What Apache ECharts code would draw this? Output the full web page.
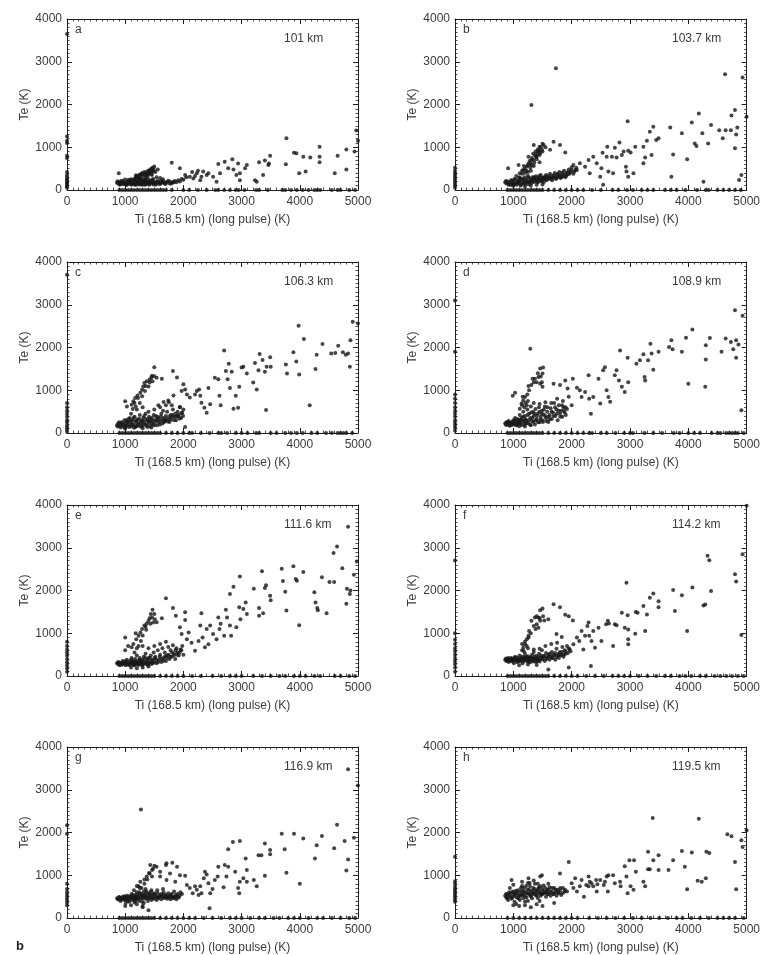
<!DOCTYPE html>
<html>
<head>
<meta charset="utf-8">
<script src="https://cdn.jsdelivr.net/npm/echarts@6/dist/echarts.min.js"></script>
<style>
  html, body { margin: 0; padding: 0; background: #fff; }
  #chart { width: 763px; height: 955px; }
</style>
</head>
<body>
<div id="chart"></div>
<script>
// ---- panel labels ----
const panelLetters = ['a', 'b', 'c', 'd', 'e', 'f', 'g', 'h']
const altitudes = ['101 km', '103.7 km', '106.3 km', '108.9 km', '111.6 km', '114.2 km', '116.9 km', '119.5 km']
const xName = 'Ti (168.5 km) (long pulse) (K)'
const yName = 'Te (K)'
const xMax = 5000, yMax = 4000, tickStep = 1000

// ---- data: [Ti, Te] pairs (scatter + dense core), Ti values where Te = 0, Te values where Ti = 0 ----
const ptsA = [
  [860,170],[880,150],[900,190],[920,140],[940,170],[960,200],[980,150],[1000,180],[1010,130],[1030,160],[1050,200],[1070,140],
  [1090,175],[1110,120],[1120,210],[1140,160],[1160,130],[1170,195],[1190,150],[1210,230],[1230,170],[1250,130],[1260,200],[1280,150],
  [1300,180],[1320,130],[1330,220],[1350,160],[1370,190],[1390,140],[1410,170],[1430,210],[1450,150],[1470,180],[1490,130],[1510,170],
  [1530,200],[1550,150],[1580,180],[1610,160],[1640,190],[1670,150],[1700,175],[1730,200],[1760,160],[1790,190],[1820,170],[1850,210],
  [1880,180],[1910,230],[1940,200],[1970,260],[2000,240],
  [1150,250],[1180,290],[1200,330],[1230,280],[1250,360],[1270,310],[1290,400],[1310,350],[1330,420],[1350,300],[1370,380],[1390,450],
  [1410,400],[1430,480],[1450,430],[1470,520],[1490,480],[1500,550],[1460,350],[1520,420],[1540,300],[1400,260],[1300,260],[1200,270],
  [1600,280],[1650,250],[1100,250],[1050,240],[890,390],[1560,480],[1480,260],[1350,240],
  [1800,640],[1940,510],[2030,350],[2110,310],[2230,390],[2290,230],[2340,430],[2430,390],[2310,310],[2170,270],[2510,310],[2570,195],
  [2600,610],[2630,390],[2710,660],[2770,510],[2840,720],[2860,480],[2940,620],[2910,350],[2970,390],[2970,230],[3060,510],[3090,585],
  [3230,230],[3260,195],[3300,650],[3370,350],[3400,690],[3460,585],[3490,800],[3470,620],[3770,1210],[3760,600],[3900,870],[3940,860],
  [3990,390],[4060,780],[4100,430],[4180,760],[4340,1010],[4340,780],[4340,650],[4600,390],[4650,800],[4800,950],[4800,480],[4940,900],
  [4970,1390],[5000,1150],[2250,450],[2150,420],[2400,350],[2050,300],[2200,330]
]
const coreA = [
  [870,205],[905,125],[935,215],[965,135],[995,245],[1025,115],[1055,175],[1085,235],[1105,145],[1135,190],[1155,240],[1185,115],
  [1205,185],[1235,135],[1265,245],[1285,120],[1315,195],[1345,125],[1365,230],[1385,175],[1415,125],[1445,185],[1465,240],[1495,165],
  [1525,125],[1565,210],[1595,135],[1625,215],[1665,185],[1695,140],[1745,215],[1785,145],[1835,185],[1185,345],[1215,300],[1245,250],
  [1325,365],[1355,405],[1375,330],[1415,445],[1445,380],[1485,430],[1455,500],[1395,350],[1275,370],[1235,330]
]
const baseA = [900,950,1000,1050,1100,1150,1200,1250,1300,1350,1400,1450,1500,1550,1600,1650,1700,1800,2000,2100,2250,2400,2550,
  2600,2700,2800,2900,2950,3050,3250,3300,3450,3700,3750,3850,3950,4050,4150,4250,4300,4350,4550,4650,4700,4850,4950]
const edgeA = [50,80,120,150,180,220,250,300,350,420,750,800,1100,1150,1250,3650]

const ptsB = [
  [860,180],[880,150],[900,200],[920,120],[940,170],[960,230],[980,140],[1000,190],[1000,100],[1020,260],[1040,160],[1060,120],
  [1080,210],[1100,170],[1110,280],[1130,130],[1150,220],[1170,180],[1190,300],[1200,140],[1220,250],[1240,200],[1250,330],[1270,170],
  [1290,260],[1310,220],[1330,300],[1350,190],[1370,250],[1390,320],[1410,210],[1430,280],[1450,240],[1470,350],[1490,200],[1510,290],
  [1530,260],[1550,330],[1570,230],[1590,300],[1610,270],[1630,380],[1650,250],[1670,320],[1690,290],[1710,400],[1730,260],[1750,350],
  [1770,310],[1790,420],[1810,280],[1830,370],[1850,330],[1870,450],[1890,300],[1910,400],[1930,360],[1950,480],[1980,420],[2000,530],
  [2030,380],[2060,470],[1200,80],[1300,100],[1400,120],[1500,130],[1150,380],[1250,420],[1050,330],
  [1100,300],[1150,450],[1200,500],[1250,580],[1280,680],[1320,750],[1340,850],[1380,900],[1420,950],[1470,1000],[1520,1050],[1300,620],
  [1350,700],[1400,720],[1450,820],[1500,900],[1550,1000],[1200,400],[1350,560],[1450,650],
  [1730,2850],[1310,1990],[1350,1050],[1450,1010],[1500,1080],[1490,940],[1430,900],[1370,820],[1310,700],[1260,620],[1230,550],
  [1170,470],[1110,390],[1260,780],[1400,780],[1460,860],[1690,1130],[1800,1050],[1630,940],[1890,880],[910,510],[1090,585],
  [2030,585],[2090,470],[2140,625],[2230,545],[2290,700],[2310,390],[2370,780],[2430,625],[2490,310],[2510,510],[2540,120],[2600,780],
  [2530,870],[2610,1010],[2630,430],[2690,780],[2710,390],[2740,990],[2770,760],[2820,1110],[2860,820],[2890,900],[2930,545],[2940,430],
  [2970,310],[2970,920],[2960,1610],[3010,880],[3060,390],[3090,1010],[3230,1010],[3230,625],[3260,760],[3290,1150],[3340,1365],
  [3370,820],[3400,1480],[3450,1170],[3490,1210],[3690,1460],[3710,310],[3740,830],[3890,1330],[3980,720],[4060,1580],[4110,1090],
  [4140,1030],[4180,1790],[4240,1330],[4260,195],[4340,1090],[4390,1520],[4530,1400],[4590,1210],[4630,2710],[4640,1400],[4730,1400],
  [4740,1740],[4800,1870],[4800,975],[4820,1300],[4840,1460],[4870,235],[4930,2630],[4910,350],[5000,1715]
]
const coreB = [
  [875,210],[915,155],[955,115],[985,225],[1015,135],[1045,240],[1075,165],[1105,215],[1125,105],[1145,265],[1175,150],[1195,235],
  [1225,185],[1255,135],[1265,290],[1285,200],[1315,165],[1335,255],[1355,300],[1385,205],[1405,270],[1425,180],[1445,330],[1465,225],
  [1485,290],[1505,250],[1525,185],[1545,280],[1565,350],[1585,250],[1615,330],[1645,290],[1665,230],[1695,350],[1715,300],[1745,280],
  [1765,380],[1795,330],[1825,300],[1845,410],[1875,350],[1905,330],[1935,420],[1965,380],[1995,470],[2045,430],[2080,520],[1225,450],
  [1290,520],[1315,580],[1360,640],[1410,840],[1440,920],[1390,780],[1300,450],[1180,560]
]
const baseB = [900,950,1000,1050,1100,1150,1200,1250,1300,1350,1400,1450,1500,1600,1700,1800,1900,2000,2100,2200,2350,2500,2700,
  2800,2950,3050,3200,3300,3400,3600,3700,3800,3950,4150,4300,4350,4500,4600,4700,4800,4900]
const edgeB = [50,100,150,200,250,300,350,400,450,520]

const ptsC = [
  [860,180],[880,220],[900,160],[920,200],[940,250],[960,180],[980,140],[1000,220],[1020,300],[1030,170],[1050,260],[1070,200],
  [1080,350],[1100,150],[1110,240],[1130,300],[1150,190],[1160,380],[1180,260],[1200,160],[1210,320],[1230,220],[1250,420],[1260,150],
  [1280,280],[1300,200],[1310,350],[1330,250],[1350,450],[1360,170],[1380,300],[1400,230],[1410,380],[1430,160],[1440,280],[1460,350],
  [1480,200],[1490,420],[1510,260],[1530,320],[1550,180],[1560,380],[1580,250],[1600,300],[1620,450],[1640,220],[1660,350],[1680,280],
  [1700,400],[1720,500],[1740,320],[1760,260],[1780,420],[1800,360],[1820,550],[1840,300],[1860,450],[1880,380],[1900,500],[1920,420],
  [1940,600],[1960,350],[1980,480],[2000,550],[1000,100],[1150,120],[1300,110],[1450,130],[1100,450],[1200,550],[1300,600],[1400,500],
  [1500,550],[1600,600],[1700,650],[1750,720],[1650,520],
  [1500,1540],[1460,1340],[1500,1330],[1420,1250],[1370,1210],[1330,1170],[1310,1090],[1290,1010],[1260,940],[1210,880],[1170,820],
  [1140,740],[1110,660],[1030,620],[1000,740],[1540,1290],[1470,1210],[1400,1090],[1340,980],
  [1630,1270],[1820,1450],[1890,1300],[2000,1140],[2030,1020],[2060,900],[1970,980],[1830,880],[1740,760],[1660,725],[1570,650],
  [1800,650],[1940,610],[2030,140],
  [2110,830],[2200,900],[2230,980],[2270,1020],[2290,870],[2310,710],[2360,590],[2400,475],[2430,1050],[2460,670],[2540,1290],
  [2600,1260],[2620,870],[2640,650],[2700,1930],[2730,1450],[2760,1260],[2780,1620],[2800,1050],[2830,1430],[2860,570],[2900,870],
  [2940,590],[2960,1080],[3000,1530],[3030,1550],[3090,1390],[3200,1180],[3230,1640],[3260,1020],[3290,1470],[3310,1850],[3360,1710],
  [3400,1430],[3420,540],[3430,1550],[3490,1770],[3500,1550],
  [3760,1600],[3780,1390],[3890,1890],[3940,1670],[3980,2510],[3990,1370],[4070,2200],[4170,650],[4270,1500],[4290,1830],[4390,2080],
  [4540,1860],[4610,1870],[4660,2040],[4740,1890],[4790,1830],[4830,1860],[4860,1550],[4870,2170],[4910,2600],[5000,2560]
]
const coreC = [
  [870,150],[895,250],[925,130],[955,220],[985,300],[1005,160],[1035,240],[1055,330],[1065,140],[1095,290],[1125,200],[1145,350],
  [1175,140],[1195,280],[1215,190],[1245,330],[1265,240],[1285,160],[1305,290],[1325,400],[1345,200],[1365,330],[1385,140],[1405,270],
  [1425,340],[1455,230],[1475,300],[1505,180],[1525,400],[1545,280],[1575,340],[1595,200],[1615,380],[1645,300],[1665,250],[1695,330],
  [1725,270],[1755,380],[1785,310],[1815,420],[1845,380],[1875,300],[1905,400],[1935,340],[1965,460],[1995,400],[1180,620],[1250,700],
  [1130,560],[1220,820],[1160,700],[1290,860],[1350,1100],[1420,1180],[1450,1300]
]
const baseC = [900,950,1000,1050,1100,1150,1200,1250,1300,1350,1400,1450,1500,1550,1600,1700,1800,1900,2000,2100,2150,2300,2450,
  2600,2650,2750,2900,3000,3100,3250,3300,3500,3600,3750,3850,3950,4050,4200,4300,4450,4550,4650,4700,4750,4800,4900]
const edgeC = [30,80,130,180,250,300,380,450,520,600,700,3700]

const ptsD = [
  [860,220],[880,250],[900,200],[920,280],[940,230],[960,180],[980,260],[1000,300],[1010,210],[1030,350],[1050,250],[1070,190],
  [1090,300],[1110,420],[1120,230],[1140,350],[1160,280],[1170,500],[1190,200],[1200,400],[1220,300],[1240,550],[1250,240],[1270,450],
  [1290,350],[1300,620],[1320,280],[1340,500],[1350,400],[1370,200],[1380,560],[1400,320],[1420,450],[1440,600],[1450,250],[1470,380],
  [1490,520],[1500,300],[1520,430],[1540,620],[1560,350],[1580,500],[1600,260],[1620,420],[1640,580],[1660,330],[1680,480],[1700,700],
  [1720,400],[1740,550],[1760,300],[1780,650],[1800,450],[1820,520],[1840,380],[1860,600],[1880,480],[1900,420],[1920,560],[1200,150],
  [1300,180],[1100,160],[1150,650],[1250,750],[1350,700],[1450,680],[1550,720],[1650,700],[1750,800],[1850,750],[1950,850],[2000,650],
  [1460,1510],[1510,1530],[1500,1390],[1430,1310],[1370,1270],[1350,1190],[1310,1120],[1270,1000],[1240,900],[1200,840],[1170,760],
  [1140,690],[1110,570],[990,870],[1030,940],[1400,1190],[1460,1150],[1500,1080],[1490,1190],[1290,1970],
  [1690,1150],[1800,1120],[1890,1230],[1930,1040],
  [2020,1270],[2090,1060],[2140,1000],[2170,840],[2230,960],[2290,1350],[2300,800],[2330,450],[2370,840],[2460,1270],[2490,690],
  [2540,1470],[2570,1540],[2600,1000],[2630,840],[2660,730],[2740,1350],[2770,1470],[2810,1230],[2830,1930],[2860,1080],[2910,960],
  [2960,1760],[2970,1190],[3110,1620],[3170,1700],[3230,1840],[3250,1310],[3260,1230],[3310,1700],[3350,2090],[3370,1860],[3400,1480],
  [3490,1900],[3670,2010],[3710,2170],[3730,1960],[3890,1900],[3960,2230],[4000,1150],[4070,2420],[4300,2050],[4300,1720],[4290,1080],
  [4370,2220],[4570,1900],[4640,2210],[4730,2130],[4770,1960],[4800,2870],[4820,1760],[4820,2170],[4860,2070],[4930,2740],[4910,530]
]
const coreD = [
  [875,190],[905,260],[935,170],[965,240],[995,200],[1025,280],[1045,180],[1065,330],[1085,220],[1105,260],[1125,310],[1145,190],
  [1165,380],[1185,270],[1205,320],[1225,220],[1245,420],[1265,300],[1285,200],[1305,480],[1325,350],[1345,260],[1365,450],[1385,300],
  [1405,400],[1425,250],[1445,500],[1465,320],[1485,450],[1505,260],[1525,550],[1545,400],[1565,280],[1585,600],[1605,380],[1625,320],
  [1655,500],[1685,400],[1715,600],[1745,450],[1775,520],[1805,380],[1835,650],[1865,520],[1895,600],[1190,600],[1230,650],[1210,700],
  [1160,850],[1260,1100],[1330,1270],[1420,1400],[1470,1320]
]
const baseD = [900,950,1000,1050,1100,1150,1200,1250,1300,1350,1400,1450,1500,1600,1700,1800,1900,2000,2100,2200,2300,2350,2500,
  2600,2750,2900,3000,3050,3250,3400,3550,3750,3850,4000,4100,4200,4400,4500,4550,4650,4700,4750,4800,4850,4950]
const edgeD = [50,120,180,240,300,380,450,520,600,700,800,900,1900,3100]

const ptsE = [
  [860,300],[880,280],[900,320],[920,260],[940,300],[960,350],[980,280],[1000,320],[1010,250],[1030,380],[1050,300],[1070,260],
  [1090,350],[1110,420],[1120,280],[1140,330],[1160,250],[1170,400],[1190,300],[1200,480],[1220,350],[1240,280],[1250,420],[1270,320],
  [1290,250],[1300,380],[1320,450],[1340,300],[1350,520],[1370,350],[1390,260],[1400,420],[1420,320],[1440,480],[1450,280],[1470,380],
  [1490,550],[1500,330],[1520,450],[1540,300],[1560,600],[1580,380],[1600,500],[1620,330],[1640,650],[1660,420],[1680,550],[1700,350],
  [1720,480],[1740,680],[1760,400],[1780,600],[1800,450],[1820,720],[1840,520],[1860,400],[1880,650],[1900,550],[1920,480],[1950,620],
  [1980,700],[2000,500],[1100,200],[1200,180],[1300,200],[1400,220],[1000,600],[1050,700],[1200,650],[1300,700],[1400,650],[1500,700],
  [1600,750],[1700,800],
  [1470,1550],[1500,1450],[1460,1370],[1510,1330],[1400,1290],[1370,1230],[1330,1180],[1290,1100],[1260,1020],[1230,940],[1190,860],
  [1140,750],[1110,670],[1000,900],[1540,1260],[1430,1220],[1360,1080],[1630,1350],[1700,1820],
  [1820,1590],[1870,1410],[1940,1140],[2030,1490],[2030,1310],[1970,980],[2060,860],[2090,1020],[2140,780],[2200,590],[2260,820],
  [2310,1470],[2290,1180],[2330,900],[2370,670],[2400,1100],[2430,745],[2460,1180],[2510,980],[2570,860],[2600,1370],[2620,1100],
  [2640,1220],[2700,940],[2730,1550],[2750,1370],[2800,1180],[2820,940],[2800,1920],[2860,2090],[2910,1140],[2960,1610],[2970,2330],
  [2980,1330],[3030,1570],[3070,1720],[3090,1450],[3210,2040],[3300,1410],[3300,1590],[3350,2450],[3370,1470],[3400,2060],[3420,2120],
  [3490,1880],[3500,1770],[3690,2510],[3710,2220],[3750,1970],[3770,1530],[3890,2570],[3930,2270],[3950,2230],[3990,1190],[4060,2430],
  [4250,1960],[4270,1720],[4300,1590],[4310,1540],[4380,2310],[4460,1470],[4510,2200],[4590,2200],[4580,2880],[4640,3030],[4730,2520],
  [4800,1690],[4810,2040],[4830,3490],[4860,1920],[4870,2000],[4930,2370],[4980,2680]
]
const coreE = [
  [875,320],[895,260],[925,300],[955,270],[975,330],[995,290],[1015,350],[1045,270],[1065,320],[1085,280],[1105,380],[1125,310],
  [1145,260],[1165,350],[1185,280],[1205,320],[1225,260],[1245,380],[1265,300],[1285,350],[1305,270],[1325,340],[1345,420],[1365,280],
  [1385,380],[1405,300],[1425,420],[1455,350],[1475,300],[1505,420],[1535,380],[1565,330],[1595,450],[1625,400],[1655,350],[1685,460],
  [1715,420],[1745,500],[1775,450],[1805,550],[1835,480],[1865,600],[1895,500],[1935,550],[1965,600],[1160,550],[1230,700],[1270,820],
  [1180,1000],[1300,950],[1350,1150],[1420,1350],[1480,1250],[1440,1450]
]
const baseE = [900,950,1000,1050,1100,1150,1200,1250,1300,1350,1400,1450,1500,1600,1700,1800,1900,2000,2150,2300,2500,2650,2800,
  2900,3000,3200,3350,3500,3650,3750,3900,4000,4100,4250,4350,4600,4700,4850,4950]
const edgeE = [100,180,250,320,400,480,550,620,700,800]

const ptsF = [
  [860,380],[880,350],[900,400],[920,330],[940,380],[960,420],[980,350],[1000,390],[1010,300],[1030,450],[1050,360],[1070,320],
  [1090,400],[1110,480],[1120,350],[1140,400],[1160,300],[1170,450],[1190,380],[1200,520],[1220,420],[1240,340],[1250,460],[1270,380],
  [1290,320],[1300,430],[1320,500],[1340,370],[1350,560],[1370,410],[1390,330],[1400,470],[1420,380],[1440,520],[1450,340],[1470,430],
  [1490,600],[1500,390],[1520,470],[1540,350],[1560,540],[1580,420],[1600,500],[1620,380],[1640,460],[1660,560],[1680,420],[1700,500],
  [1720,380],[1740,640],[1760,480],[1780,420],[1800,560],[1820,500],[1840,680],[1860,450],[1880,600],[1900,520],[1920,700],[1950,650],
  [1980,580],[1100,250],[1250,270],[1400,260],[1600,150],[1950,200],[1150,600],[1250,650],[1350,620],[1450,640],[1550,700],[1650,750],
  [1750,780],[1150,750],[1200,800],
  [1500,1580],[1460,1540],[1430,1370],[1370,1370],[1310,1290],[1350,1170],[1400,1210],[1430,1130],[1270,1050],[1260,940],[1230,860],
  [1200,740],[1170,660],[1460,1290],[1510,1400],[1600,1330],[1690,1680],[1800,1610],[1890,1430],[1950,1400],[2020,1300],[1740,980],
  [1830,910],
  [2030,740],[2090,900],[2130,820],[2170,1050],[2200,620],[2230,940],[2270,1170],[2290,1250],[2300,940],[2370,1050],[2340,820],
  [2400,660],[2330,235],[2460,1130],[2510,820],[2590,1210],[2620,1290],[2640,1230],[2710,700],[2740,1210],[2770,1190],[2860,1480],
  [2910,1130],[2940,2180],[2960,1420],[2970,860],[2970,740],[2970,1090],[3090,990],[3100,1500],[3130,1480],[3230,1640],[3260,1050],
  [3290,1440],[3340,1830],[3400,1930],[3490,1750],[3490,1610],[3740,2010],[3770,1520],[3890,1890],[3980,1050],[4070,2070],[4260,1650],
  [4290,1670],[4330,2810],[4360,2710],[4390,1990],[4800,2380],[4820,2210],[4910,960],[4930,2850],[5000,3980]
]
const coreF = [
  [875,410],[895,360],[915,420],[945,350],[975,400],[995,340],[1015,420],[1045,380],[1065,430],[1085,350],[1105,410],[1125,370],
  [1145,440],[1165,340],[1185,410],[1205,370],[1225,450],[1245,390],[1265,340],[1285,440],[1305,380],[1325,420],[1345,340],[1365,460],
  [1385,400],[1405,350],[1425,440],[1455,380],[1475,480],[1505,420],[1535,460],[1565,400],[1595,450],[1625,520],[1655,420],[1685,480],
  [1715,540],[1745,450],[1775,520],[1805,480],[1835,560],[1865,500],[1895,580],[1935,540],[1965,620],[1180,580],[1230,700],[1260,900],
  [1300,1000],[1380,1100],[1450,1350],[1400,1400],[1530,1300]
]
const baseF = [900,950,1000,1050,1100,1150,1200,1250,1300,1350,1400,1450,1500,1550,1600,1700,1800,1900,2000,2100,2250,2400,2550,
  2700,2800,2900,3000,3150,3300,3450,3600,3700,3850,3950,4050,4200,4300,4450,4550,4650,4750,4850,4950]
const edgeF = [100,200,280,350,420,500,580,650,750,850,1000,2700]

const ptsG = [
  [860,460],[880,430],[900,480],[920,400],[940,450],[960,500],[980,420],[1000,470],[1010,350],[1030,520],[1050,440],[1070,380],
  [1090,500],[1110,560],[1120,420],[1140,480],[1160,360],[1170,540],[1190,450],[1200,600],[1220,500],[1240,400],[1250,560],[1270,460],
  [1290,380],[1300,520],[1320,620],[1340,450],[1350,560],[1370,490],[1390,400],[1400,540],[1420,460],[1440,600],[1450,420],[1470,500],
  [1490,560],[1500,450],[1520,520],[1540,420],[1560,580],[1580,480],[1600,540],[1620,440],[1640,520],[1660,600],[1680,470],[1700,540],
  [1720,450],[1740,580],[1760,500],[1780,440],[1800,560],[1820,480],[1840,620],[1860,500],[1880,440],[1900,560],[1920,480],[1950,600],
  [1000,280],[1100,300],[1200,320],[1300,250],[1400,180],[1300,280],[1150,650],[1250,700],[1350,680],[1200,750],[1450,650],[1550,650],
  [1650,680],
  [1270,2540],[1430,1240],[1500,1220],[1540,1200],[1460,1120],[1420,1040],[1370,970],[1330,900],[1260,850],[1230,740],[1460,970],
  [1600,1080],[1700,1240],[1710,1280],[1810,1290],[1890,1200],[1770,1040],[1940,1000],[2030,990],[1860,850],[1710,890],[1600,970],
  [2060,770],[2110,700],[2160,580],[2200,740],[2230,660],[2260,540],[2310,580],[2290,740],[2350,930],[2400,1020],[2430,810],[2460,580],
  [2450,230],[2370,1080],[2500,680],[2540,890],[2590,970],[2600,1200],[2690,720],[2710,1240],[2740,970],[2770,1200],[2770,1610],
  [2850,1780],[2890,1080],[2940,700],[2960,580],[2970,1800],[2970,850],[3030,930],[3070,1390],[3090,850],[3090,1120],[3210,890],
  [3260,740],[3290,1470],[3340,1470],[3400,1740],[3400,990],[3490,1590],[3490,1490],[3690,1970],[3740,1610],[3770,1060],[3900,1970],
  [4000,800],[4060,1860],[4260,1390],[4290,1700],[4380,1920],[4590,1630],[4640,2180],[4770,1800],[4800,1110],[4830,1370],[4830,3480],
  [4930,1880],[5000,3100]
]
const coreG = [
  [875,450],[895,490],[925,430],[955,470],[985,510],[1005,440],[1025,480],[1045,400],[1065,510],[1085,450],[1105,490],[1125,540],
  [1145,430],[1165,500],[1185,470],[1205,530],[1225,450],[1245,600],[1265,500],[1285,560],[1305,460],[1325,540],[1345,500],[1365,620],
  [1385,460],[1405,580],[1425,510],[1455,540],[1475,460],[1505,580],[1535,500],[1565,460],[1595,500],[1625,560],[1655,480],[1685,520],
  [1715,500],[1745,480],[1775,540],[1805,500],[1835,460],[1865,540],[1895,500],[1935,520],[1975,560],[1280,700],[1330,800],[1380,900],
  [1410,1050],[1480,1150],[1320,350],[1180,400]
]
const baseG = [900,950,1000,1050,1100,1150,1200,1250,1300,1350,1400,1450,1500,1600,1700,1800,1900,2000,2100,2200,2350,2500,2650,
  2800,2900,3000,3150,3300,3400,3550,3650,3800,3900,4000,4150,4300,4400,4550,4700,4850,4950]
const edgeG = [300,360,420,480,540,600,680,800,1970,2170]

const ptsH = [
  [860,520],[880,480],[900,560],[910,420],[930,600],[950,500],[970,450],[990,620],[1000,540],[1020,380],[1040,580],[1060,480],
  [1080,650],[1100,520],[1110,420],[1130,700],[1150,560],[1170,460],[1180,620],[1200,520],[1220,750],[1240,580],[1250,400],[1270,660],
  [1290,520],[1300,600],[1320,460],[1340,700],[1350,560],[1370,800],[1390,520],[1400,640],[1420,470],[1440,720],[1450,580],[1470,520],
  [1490,680],[1500,560],[1520,760],[1540,600],[1560,500],[1580,660],[1600,560],[1620,720],[1640,520],[1660,620],[1680,560],[1700,700],
  [1720,600],[1740,520],[1760,660],[1780,580],[1800,640],[1820,540],[1850,700],[1880,620],[1000,300],[1050,330],[1100,280],[1200,300],
  [1300,250],[1400,320],[1500,280],[1150,850],[1250,820],[1350,880],[1200,380],[940,700],[1000,780],[1600,800],[1700,350],[1450,400],
  [970,890],[1260,930],[1460,970],[1490,1000],[1800,1040],[1950,1310],
  [2000,810],[2030,700],[2060,930],[2090,620],[2140,740],[2170,890],[2210,500],[2250,770],[2290,740],[2290,970],[2310,850],[2340,810],
  [2370,740],[2420,890],[2430,620],[2440,790],[2490,890],[2550,770],[2570,850],[2620,620],[2600,970],[2630,1000],[2710,1000],
  [2740,810],[2830,850],[2840,740],[2910,1210],[2940,970],[2960,580],[2990,1350],[3010,740],[3060,660],[3070,1350],[3100,1080],
  [3230,850],[3260,740],[3310,1550],[3310,1140],[3340,1140],[3400,1350],[3390,2340],[3490,1470],[3490,1120],[3660,1120],[3740,1350],
  [3890,1570],[3940,1200],[3980,670],[4060,1530],[4160,870],[4180,2320],[4230,850],[4300,930],[4310,1550],[4360,1520],[4670,1960],
  [4740,1910],[4800,1310],[4820,670],[4910,1820],[4930,1660],[5000,2050]
]
const coreH = [
  [875,560],[895,460],[925,520],[955,580],[985,480],[1005,600],[1025,520],[1045,640],[1065,560],[1085,460],[1105,600],[1125,520],
  [1145,640],[1165,540],[1185,700],[1205,600],[1225,480],[1245,660],[1265,560],[1285,740],[1305,520],[1325,640],[1345,580],[1365,680],
  [1385,600],[1405,540],[1425,680],[1445,620],[1465,740],[1485,560],[1505,640],[1525,580],[1545,700],[1565,620],[1585,560],[1605,660],
  [1635,600],[1665,700],[1695,560],[1725,660],[1765,600],[1805,700],[1845,580],[1885,660],[1920,620],[1150,750],[1280,820],[1420,800]
]
const baseH = [900,1000,1100,1200,1300,1400,1500,1600,1700,1800,1900,2000,2100,2300,2450,2600,2750,2900,3050,3200,3350,3500,3650,
  3800,3900,4050,4200,4350,4500,4600,4700,4800,4950]
const edgeH = [380,430,480,530,580,630,680,730,800,860,1430]

const allPts = [ptsA, ptsB, ptsC, ptsD, ptsE, ptsF, ptsG, ptsH]
const allCore = [coreA, coreB, coreC, coreD, coreE, coreF, coreG, coreH]
const allBase = [baseA, baseB, baseC, baseD, baseE, baseF, baseG, baseH]
const allEdge = [edgeA, edgeB, edgeC, edgeD, edgeE, edgeF, edgeG, edgeH]

// ---- layout ----
const colLeft = [67, 455]
const colWidth = [291, 292]
const rowTop = [19, 262, 505, 747]
const rowH = 171
const font = '"Liberation Sans", Arial, Helvetica, sans-serif'
const ink = '#1e1e1e'
const dot = '#161616'
const textCol = '#3a3a3a'

const chart = echarts.init(document.getElementById('chart'), null, { renderer: 'canvas' })

const grids = [], xAxes = [], yAxes = [], series = [], graphics = []

function axisBase(show, margin) {
  return {
    type: 'value',
    axisLine: { show: true, onZero: false, lineStyle: { color: ink, width: 1 } },
    axisTick: { show: true, inside: true, length: 5, lineStyle: { color: ink, width: 1 } },
    minorTick: { show: true, splitNumber: 10, length: 2.5, lineStyle: { color: ink, width: 0.8 } },
    splitLine: { show: false },
    axisLabel: { show, margin, color: textCol, fontSize: 12, fontFamily: font, formatter: v => String(v) }
  }
}

for (let i = 0; i < 8; i++) {
  const c = i % 2, r = Math.floor(i / 2)
  const left = colLeft[c], top = rowTop[r], w = colWidth[c]
  grids.push({ left, top, width: w, height: rowH })

  xAxes.push(Object.assign(axisBase(true, 6), {
    gridIndex: i, position: 'bottom', min: 0, max: xMax, interval: tickStep,
    name: xName, nameLocation: 'middle', nameGap: 24,
    nameTextStyle: { color: textCol, fontSize: 12, fontFamily: font }
  }))
  xAxes.push(Object.assign(axisBase(false, 6), {
    gridIndex: i, position: 'top', min: 0, max: xMax, interval: tickStep
  }))

  yAxes.push(Object.assign(axisBase(true, 5), {
    gridIndex: i, position: 'left', min: 0, max: yMax, interval: tickStep,
    name: yName, nameLocation: 'middle', nameGap: 36, nameRotate: 90,
    nameTextStyle: { color: textCol, fontSize: 12, fontFamily: font }
  }))
  yAxes.push(Object.assign(axisBase(false, 5), {
    gridIndex: i, position: 'right', min: 0, max: yMax, interval: tickStep
  }))

  const data = allPts[i]
    .concat(allCore[i])
    .concat(allBase[i].map(x => [x, 0]))
    .concat(allEdge[i].map(y => [0, y]))

  series.push({
    type: 'scatter',
    xAxisIndex: 2 * i, yAxisIndex: 2 * i,
    data,
    symbol: 'circle', symbolSize: 4,
    itemStyle: { color: dot },
    clip: false, silent: true
  })

  graphics.push({
    type: 'text', left: left + 8, top: top + 5,
    style: { text: panelLetters[i], fill: textCol, font: `12px ${font}` }
  })
  graphics.push({
    type: 'text', left: left + 217, top: top + 14,
    style: { text: altitudes[i], fill: textCol, font: `12px ${font}` }
  })
}

graphics.push({
  type: 'text', left: 16, top: 940,
  style: { text: 'b', fill: '#222', font: `bold 13px ${font}` }
})

chart.setOption({
  animation: false,
  backgroundColor: '#fff',
  grid: grids,
  xAxis: xAxes,
  yAxis: yAxes,
  series,
  graphic: graphics
})
</script>
</body>
</html>
